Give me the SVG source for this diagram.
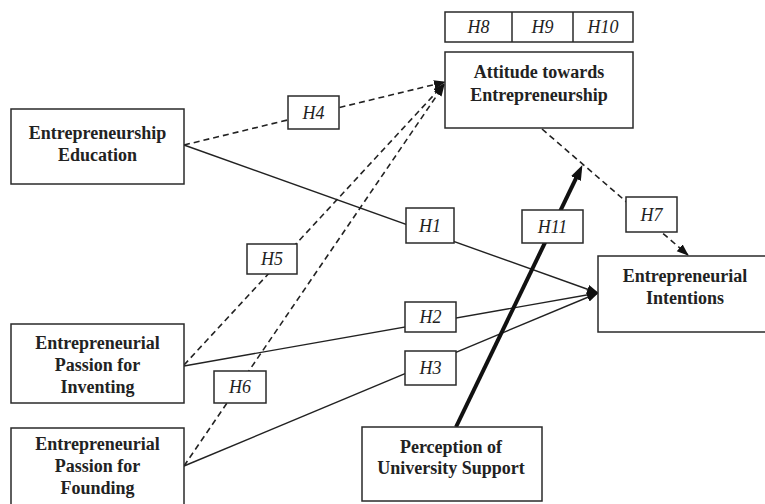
<svg xmlns="http://www.w3.org/2000/svg" width="765" height="504" viewBox="0 0 765 504">
<style>
  .box { fill: #fff; stroke: #2a2a2a; stroke-width: 1.5; }
  .node { font-family: "Liberation Serif", "Times New Roman", serif; font-weight: bold; font-size: 18px; fill: #222; text-anchor: middle; }
  .hyp { font-family: "Liberation Serif", "Times New Roman", serif; font-style: italic; font-size: 18px; fill: #222; text-anchor: middle; }
  .solid { stroke: #222; stroke-width: 1.4; fill: none; }
  .dash { stroke: #222; stroke-width: 1.6; fill: none; stroke-dasharray: 6 4; }
  .thick { stroke: #111; stroke-width: 4; fill: none; }
</style>
<defs>
  <marker id="arr" markerUnits="userSpaceOnUse" markerWidth="12" markerHeight="10" refX="11" refY="4.5" orient="auto">
    <path d="M0,0 L12,4.5 L0,9 z" fill="#111"/>
  </marker>
  <marker id="arrBig" markerUnits="userSpaceOnUse" markerWidth="16" markerHeight="12" refX="6" refY="5.5" orient="auto">
    <path d="M0,0 L15,5.5 L0,11 z" fill="#111"/>
  </marker>
</defs>
<rect width="765" height="504" fill="#fff"/>

<g id="connectors">
  <line id="c-H4" class="dash" x1="184" y1="145" x2="445" y2="82" marker-end="url(#arr)"/>
  <line id="c-H5" class="dash" x1="184" y1="365" x2="444" y2="84" marker-end="url(#arr)"/>
  <line id="c-H6" class="dash" x1="184" y1="466" x2="444" y2="85" marker-end="url(#arr)"/>
  <line id="c-H1" class="solid" x1="184" y1="145" x2="598" y2="293" marker-end="url(#arr)"/>
  <line id="c-H2" class="solid" x1="184" y1="366" x2="598" y2="293" marker-end="url(#arr)"/>
  <line id="c-H3" class="solid" x1="184" y1="466" x2="598" y2="293" marker-end="url(#arr)"/>
  <line id="c-H7" class="dash" x1="542" y1="129" x2="688" y2="255" marker-end="url(#arr)"/>
  <line id="c-H11" class="thick" x1="456" y1="427" x2="578.5" y2="173.2" marker-end="url(#arrBig)"/>
</g>

<g id="hypotheses-top">
  <rect class="box" x="445" y="12" width="188" height="30"/>
  <line x1="512" y1="12" x2="512" y2="42" stroke="#2a2a2a" stroke-width="1.5"/>
  <line x1="573" y1="12" x2="573" y2="42" stroke="#2a2a2a" stroke-width="1.5"/>
  <text class="hyp" x="478.5" y="33">H8</text>
  <text class="hyp" x="542.5" y="33">H9</text>
  <text class="hyp" x="603" y="33">H10</text>
</g>

<g id="attitude">
  <rect class="box" x="445" y="52" width="188" height="76"/>
  <text class="node" x="539" y="78">Attitude towards</text>
  <text class="node" x="539" y="101">Entrepreneurship</text>
</g>

<g id="education">
  <rect class="box" x="11" y="109" width="173" height="75"/>
  <text class="node" x="97.5" y="139">Entrepreneurship</text>
  <text class="node" x="97.5" y="161">Education</text>
</g>

<g id="inventing">
  <rect class="box" x="11" y="324" width="173" height="79"/>
  <text class="node" x="97.5" y="349">Entrepreneurial</text>
  <text class="node" x="97.5" y="371">Passion for</text>
  <text class="node" x="97.5" y="393">Inventing</text>
</g>

<g id="founding">
  <rect class="box" x="11" y="428" width="173" height="90"/>
  <text class="node" x="97.5" y="450">Entrepreneurial</text>
  <text class="node" x="97.5" y="472">Passion for</text>
  <text class="node" x="97.5" y="494">Founding</text>
</g>

<g id="intentions">
  <rect class="box" x="598" y="256" width="175" height="76"/>
  <text class="node" x="685" y="282">Entrepreneurial</text>
  <text class="node" x="685" y="304">Intentions</text>
</g>

<g id="university">
  <rect class="box" x="362" y="427" width="180" height="74"/>
  <text class="node" x="451" y="453">Perception of</text>
  <text class="node" x="451" y="474">University Support</text>
</g>

<g id="label-H4"><rect class="box" x="288" y="96" width="51" height="33"/><text class="hyp" x="313.5" y="118.5">H4</text></g>
<g id="label-H5"><rect class="box" x="247" y="244" width="50" height="30"/><text class="hyp" x="272" y="265">H5</text></g>
<g id="label-H6"><rect class="box" x="214" y="371" width="52" height="32"/><text class="hyp" x="240" y="393">H6</text></g>
<g id="label-H1"><rect class="box" x="406" y="208" width="48" height="35"/><text class="hyp" x="430" y="231.5">H1</text></g>
<g id="label-H2"><rect class="box" x="405" y="302" width="51" height="30"/><text class="hyp" x="430.5" y="323">H2</text></g>
<g id="label-H3"><rect class="box" x="405" y="351" width="51" height="34"/><text class="hyp" x="430.5" y="374">H3</text></g>
<g id="label-H7"><rect class="box" x="626" y="197" width="51" height="35"/><text class="hyp" x="651.5" y="220.5">H7</text></g>
<g id="label-H11"><rect class="box" x="522" y="210" width="61" height="33"/><text class="hyp" x="552.5" y="232.5">H11</text></g>
</svg>
